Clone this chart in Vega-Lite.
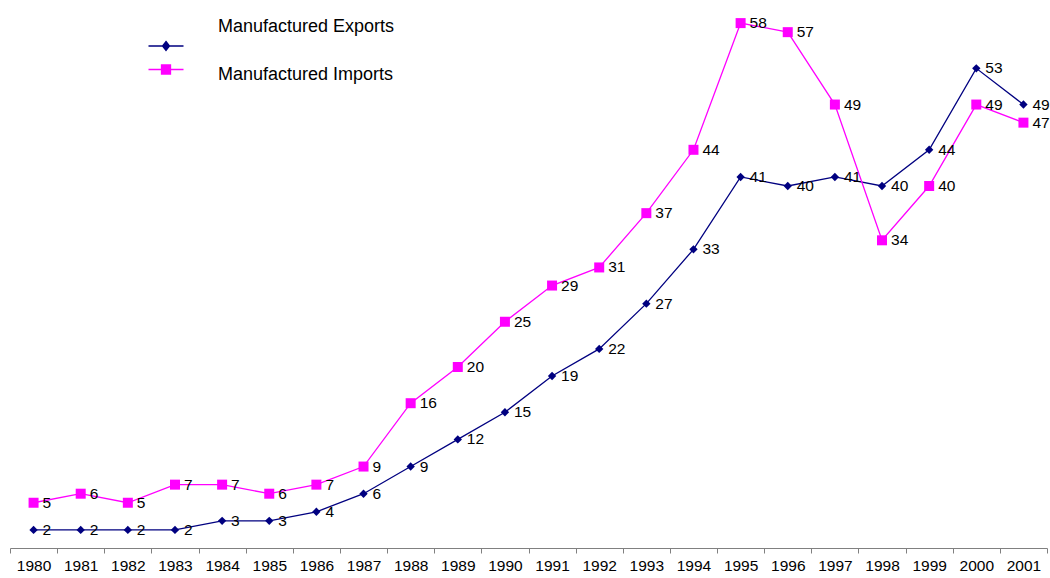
{
  "$schema": "https://vega.github.io/schema/vega-lite/v6.json",
  "width": 1037,
  "height": 543,
  "autosize": "none",
  "padding": {"left": 10, "top": 5, "right": 3, "bottom": 30},
  "config": {"view": {"stroke": null}, "font": "Liberation Sans"},
  "data": {"values": [
    {"year": "1980", "series": "Manufactured Exports", "value": 2},
    {"year": "1981", "series": "Manufactured Exports", "value": 2},
    {"year": "1982", "series": "Manufactured Exports", "value": 2},
    {"year": "1983", "series": "Manufactured Exports", "value": 2},
    {"year": "1984", "series": "Manufactured Exports", "value": 3},
    {"year": "1985", "series": "Manufactured Exports", "value": 3},
    {"year": "1986", "series": "Manufactured Exports", "value": 4},
    {"year": "1987", "series": "Manufactured Exports", "value": 6},
    {"year": "1988", "series": "Manufactured Exports", "value": 9},
    {"year": "1989", "series": "Manufactured Exports", "value": 12},
    {"year": "1990", "series": "Manufactured Exports", "value": 15},
    {"year": "1991", "series": "Manufactured Exports", "value": 19},
    {"year": "1992", "series": "Manufactured Exports", "value": 22},
    {"year": "1993", "series": "Manufactured Exports", "value": 27},
    {"year": "1994", "series": "Manufactured Exports", "value": 33},
    {"year": "1995", "series": "Manufactured Exports", "value": 41},
    {"year": "1996", "series": "Manufactured Exports", "value": 40},
    {"year": "1997", "series": "Manufactured Exports", "value": 41},
    {"year": "1998", "series": "Manufactured Exports", "value": 40},
    {"year": "1999", "series": "Manufactured Exports", "value": 44},
    {"year": "2000", "series": "Manufactured Exports", "value": 53},
    {"year": "2001", "series": "Manufactured Exports", "value": 49},
    {"year": "1980", "series": "Manufactured Imports", "value": 5},
    {"year": "1981", "series": "Manufactured Imports", "value": 6},
    {"year": "1982", "series": "Manufactured Imports", "value": 5},
    {"year": "1983", "series": "Manufactured Imports", "value": 7},
    {"year": "1984", "series": "Manufactured Imports", "value": 7},
    {"year": "1985", "series": "Manufactured Imports", "value": 6},
    {"year": "1986", "series": "Manufactured Imports", "value": 7},
    {"year": "1987", "series": "Manufactured Imports", "value": 9},
    {"year": "1988", "series": "Manufactured Imports", "value": 16},
    {"year": "1989", "series": "Manufactured Imports", "value": 20},
    {"year": "1990", "series": "Manufactured Imports", "value": 25},
    {"year": "1991", "series": "Manufactured Imports", "value": 29},
    {"year": "1992", "series": "Manufactured Imports", "value": 31},
    {"year": "1993", "series": "Manufactured Imports", "value": 37},
    {"year": "1994", "series": "Manufactured Imports", "value": 44},
    {"year": "1995", "series": "Manufactured Imports", "value": 58},
    {"year": "1996", "series": "Manufactured Imports", "value": 57},
    {"year": "1997", "series": "Manufactured Imports", "value": 49},
    {"year": "1998", "series": "Manufactured Imports", "value": 34},
    {"year": "1999", "series": "Manufactured Imports", "value": 40},
    {"year": "2000", "series": "Manufactured Imports", "value": 49},
    {"year": "2001", "series": "Manufactured Imports", "value": 47}
  ]},
  "encoding": {
    "x": {
      "field": "year", "type": "ordinal",
      "scale": {"type": "band", "paddingInner": 0, "paddingOuter": 0},
      "axis": {
        "title": null, "labelAngle": 0, "tickBand": "extent",
        "domainColor": "#808080", "tickColor": "#808080", "tickSize": 5,
        "labelFontSize": 15.5, "labelColor": "#000000", "labelPadding": 5,
        "labelFont": "Liberation Sans", "grid": false
      }
    },
    "y": {
      "field": "value", "type": "quantitative",
      "scale": {"domain": [0, 60], "nice": false, "zero": true},
      "axis": null
    }
  },
  "layer": [
    {
      "mark": {"type": "line", "strokeWidth": 1.3},
      "encoding": {
        "color": {
          "field": "series", "type": "nominal",
          "scale": {"domain": ["Manufactured Exports", "Manufactured Imports"], "range": ["#000080", "#FF00FF"]},
          "legend": {
            "title": null, "orient": "none", "legendX": 147, "legendY": 32,
            "labelFontSize": 18, "labelColor": "#000000", "labelFont": "Liberation Sans",
            "labelLimit": 0,
            "labelOffset": 43, "rowPadding": 6.5, "padding": 0, "symbolSize": 100,
            "symbolType": "M-3.5,0L3.5,0",
            "symbolStrokeWidth": 1.3,
            "encode": {
              "symbols": {"update": {
                "shape": {"signal": "datum.value === 'Manufactured Exports' ? 'M-3.5,0L3.5,0M0,-0.9L0.7,0L0,0.9L-0.7,0Z' : 'M-3.5,0L3.5,0M-0.9,-0.9L0.9,-0.9L0.9,0.9L-0.9,0.9Z'"},
                "fill": {"signal": "datum.value === 'Manufactured Exports' ? '#000080' : '#FF00FF'"},
                "stroke": {"signal": "datum.value === 'Manufactured Exports' ? '#000080' : '#FF00FF'"},
                "strokeWidth": {"value": 1.3}
              }},
              "labels": {"update": {
                "fontSize": {"value": 18},
                "dy": {"signal": "datum.index === 0 ? -19 : 5"}
              }}
            }
          }
        }
      }
    },
    {
      "transform": [{"filter": "datum.series === 'Manufactured Exports'"}],
      "mark": {"type": "point", "filled": true, "opacity": 1, "shape": "diamond", "size": 70, "color": "#000080"}
    },
    {
      "transform": [{"filter": "datum.series === 'Manufactured Imports'"}],
      "mark": {"type": "point", "filled": true, "opacity": 1, "shape": "square", "size": 100, "color": "#FF00FF"}
    },
    {
      "mark": {"type": "text", "align": "left", "baseline": "middle", "dx": 9, "fontSize": 15.5, "font": "Liberation Sans", "color": "#000000"},
      "encoding": {
        "text": {"field": "value", "type": "quantitative"}
      }
    }
  ]
}
